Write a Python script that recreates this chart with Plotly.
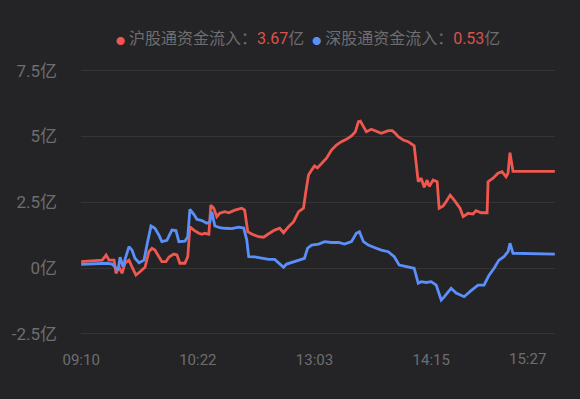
import plotly.graph_objects as go

# minute index from 09:10 (trading minutes), values in 亿
sh_t = [0, 7, 13, 15.4, 17.2, 20.3, 21.5, 23.4, 25.2, 27.1, 29.5, 31.4, 33.8, 36.3, 39.4, 41.8, 43.7, 45.5,
        48, 49.8, 52.3, 54.2, 57.2, 59.1, 60.9, 64, 65.8, 67.1, 69.5, 72.6, 74.5, 76.3, 78.8, 80, 81.8,
        83.7, 85.5, 88.6, 91.1, 94.8, 99.1, 100.9, 102.8, 105.2, 109.5, 112.6, 115.7, 119.4, 122.5,
        124.9, 128, 131.1, 134.2, 137.2, 138.5, 140.3, 142.2, 144, 145.8, 148.3, 151.4, 154.5, 157.5,
        160.6, 163.7, 166.8, 169.2, 171.1, 172.3, 174.2, 176, 179.1, 182.2, 185.2, 189.5, 192, 193.8,
        195.7, 198.8, 201.8, 205.5, 206.8, 208, 209.8, 211.7, 213.5, 214.8, 217.2, 219.7, 220.9, 223.4,
        225.2, 227.7, 230.2, 232.6, 233.8, 235.7, 238.8, 241.8, 243.7, 246.8, 250.5, 251.1, 254.2,
        257.2, 259.7, 262.2, 263.4, 264.6, 266.5, 292.3]
sh_v = [0.24, 0.27, 0.3, 0.49, 0.3, 0.3, -0.2, 0.04, -0.2, 0.19, 0.3, 0.04, -0.27, -0.14, 0.03, 0.62, 0.75, 0.68,
        0.43, 0.24, 0.24, 0.42, 0.53, 0.5, 0.18, 0.18, 0.43, 1.57, 1.44, 1.32, 1.28, 1.32, 1.28, 2.39, 2.27,
        1.95, 2.08, 2.14, 2.1, 2.2, 2.27, 2.2, 1.38, 1.29, 1.19, 1.17, 1.3, 1.44, 1.51,
        1.34, 1.57, 1.76, 2.14, 2.27, 2.84, 3.53, 3.72, 3.88, 3.8, 3.98, 4.17, 4.48, 4.67,
        4.8, 4.89, 5.02, 5.18, 5.56, 5.58, 5.37, 5.18, 5.27, 5.18, 5.12, 5.22, 5.22, 5.12,
        4.99, 4.86, 4.8, 4.64, 3.85, 3.28, 3.41, 3.07, 3.34, 3.1, 3.34, 3.28, 2.27, 2.36,
        2.52, 2.77, 2.58, 2.39, 2.27, 1.95, 2.08, 2.05, 2.18, 2.1, 2.1, 3.28, 3.41,
        3.6, 3.66, 3.47, 3.6, 4.38, 3.67, 3.67]

sz_t = [0, 9.8, 16, 19.1, 20.9, 22.8, 24, 25.8, 27.1, 29.5, 31.4, 33.2, 35.7, 38.8, 40.6, 43.1, 45.5, 48,
        49.8, 52.9, 56, 58.5, 60.3, 64, 65.8, 67.1, 69.5, 71.4, 74.5, 77.5, 79.4, 80.6, 82.5, 85.5, 88.6,
        92.9, 97.2, 100.3, 102.2, 103.4, 107.1, 111.4, 115.7, 119.4, 122.5, 124.9, 126.8, 131.1, 134.2,
        137.8, 139.7, 142.2, 146.5, 150.2, 154.5, 158.8, 162.5, 166.8, 169.8, 171.7, 174.2, 177.2,
        180.9, 185.2, 189.5, 193.2, 196.3, 200.6, 205.5, 208, 209.8, 212.9, 216, 219.1, 222.2, 224,
        228.3, 231.4, 236.3, 240.6, 244.9, 248.6, 251.7, 254.8, 257.8, 260.9, 263.4, 264.6, 266.5, 292.3]
sz_v = [0.14, 0.15, 0.18, 0.15, 0.05, -0.08, 0.41, 0.05, 0.33, 0.81, 0.68, 0.37, 0.2, 0.3, 0.87, 1.6, 1.51, 1.25,
        1.0, 1.05, 1.44, 1.42, 1.0, 1.02, 1.19, 2.23, 2.04, 1.85, 1.8, 1.7, 1.75, 2.14, 1.6, 1.53, 1.51,
        1.5, 1.55, 1.52, 1.06, 0.43, 0.42, 0.37, 0.33, 0.33, 0.18, 0.03, 0.15, 0.24, 0.3,
        0.37, 0.75, 0.87, 0.91, 1.0, 0.97, 0.97, 0.91, 1.0, 1.32, 1.38, 1.0, 0.87,
        0.78, 0.68, 0.62, 0.43, 0.11, 0.05, -0.01, -0.58, -0.52, -0.55, -0.52, -0.65, -1.22, -1.1,
        -0.77, -0.95, -1.09, -0.86, -0.65, -0.65, -0.27, -0.01, 0.3, 0.43, 0.62, 0.94, 0.56, 0.53]

x_tick_vals = [0, 72, 144, 216, 288]
x_tick_text = ["09:10", "10:22", "13:03", "14:15", "15:27"]
y_tick_vals = [-2.5, 0, 2.5, 5, 7.5]
y_tick_text = ["-2.5亿", "0亿", "2.5亿", "5亿", "7.5亿"]

sh_name, sh_last = "沪股通资金流入", "3.67"
sz_name, sz_last = "深股通资金流入", "0.53"

RED = "#f0574f"
VAL_RED = "#d9534c"
BLUE = "#5b8ff9"
BG = "#242426"
GRID = "#343436"
TXT = "#6e6e70"
FONT = "Roboto, 'Noto Sans CJK SC', sans-serif"

fig = go.Figure()
fig.add_trace(go.Scatter(x=sh_t, y=sh_v, mode="lines", line=dict(color=RED, width=2.8), showlegend=False,
                         hoverinfo="skip"))
fig.add_trace(go.Scatter(x=sz_t, y=sz_v, mode="lines", line=dict(color=BLUE, width=2.8), showlegend=False,
                         hoverinfo="skip"))

fig.update_layout(
    width=580, height=399,
    paper_bgcolor=BG, plot_bgcolor=BG,
    margin=dict(l=75, r=25, t=60, b=53),
    font=dict(family=FONT, color=TXT),
    xaxis=dict(range=[-0.1, 292.4], tickvals=x_tick_vals[:4], ticktext=x_tick_text[:4],
               showgrid=False, zeroline=False, showline=False, ticks="", ticklabelstandoff=3,
               tickfont=dict(size=15, color=TXT)),
    yaxis=dict(range=[-2.963, 7.903], tickvals=y_tick_vals, ticktext=y_tick_text,
               showgrid=True, gridcolor=GRID, gridwidth=1, zeroline=False, showline=False,
               ticks="", ticklabelstandoff=23, tickfont=dict(size=17, color=TXT)),
)

# last x label right-aligned at its tick
fig.add_annotation(x=x_tick_vals[4], y=0, xref="x", yref="paper", yanchor="top", xanchor="right",
                   yshift=-2, text=x_tick_text[4], showarrow=False, font=dict(size=15, color=TXT, family=FONT))

legend_text = (
    f"<span style='color:{RED};font-size:9px'>●</span> {sh_name}：<span style='color:{VAL_RED}'>{sh_last}</span>亿  "
    f"<span style='color:{BLUE};font-size:9px'>●</span> {sz_name}：<span style='color:{VAL_RED}'>{sz_last}</span>亿"
)
# plot area spans x 75..555 px and y 60..346 px
fig.add_annotation(x=(501 - 75) / 480, y=(346 - 38) / 286, xref="paper", yref="paper", text=legend_text,
                   showarrow=False, xanchor="right", yanchor="middle",
                   font=dict(size=16, color=TXT, family=FONT))

fig.write_html("out.html", config={"displayModeBar": False},
               post_script="document.body.style.margin='0';document.body.style.background='#242426';")
